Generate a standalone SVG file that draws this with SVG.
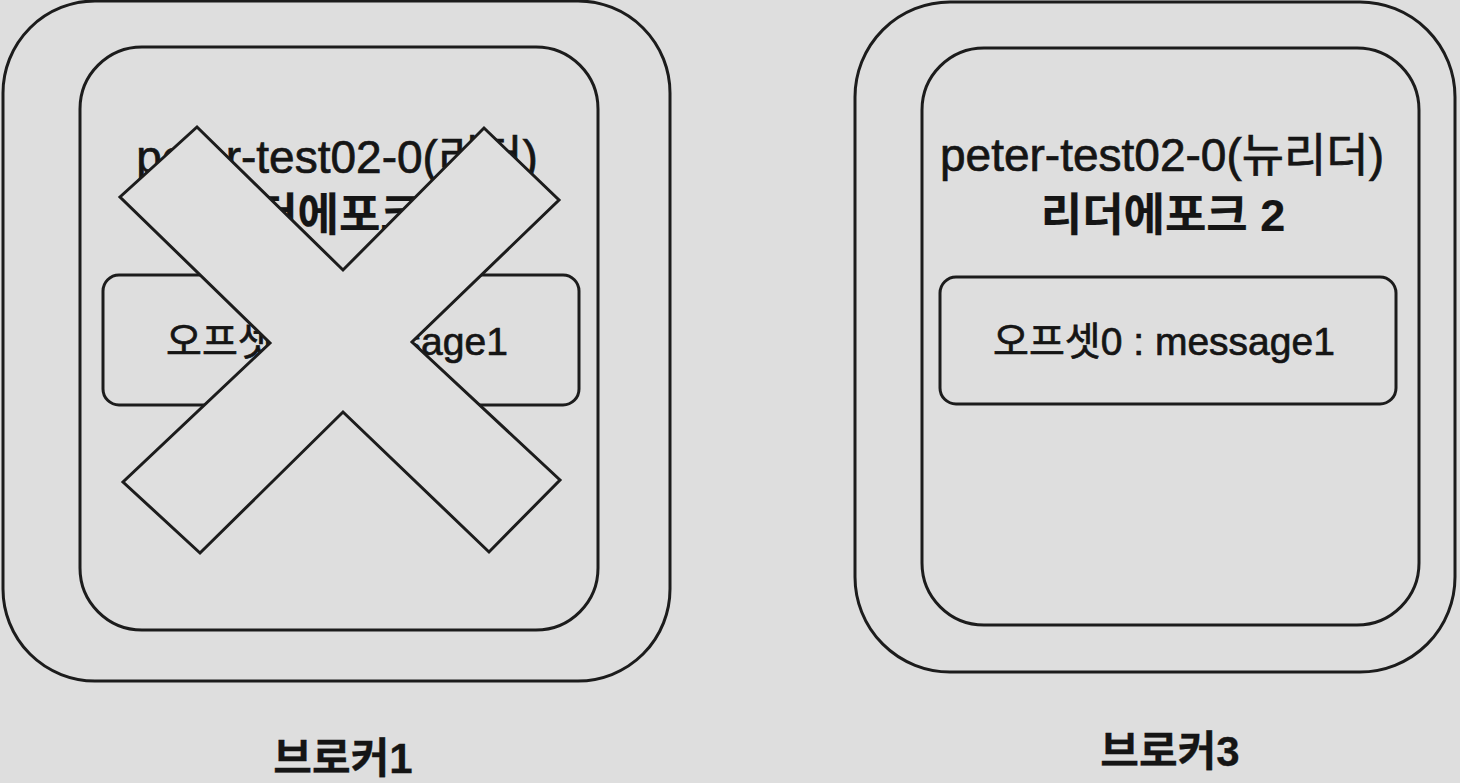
<svg xmlns="http://www.w3.org/2000/svg" width="1460" height="783" viewBox="0 0 1460 783">
<style>
.box{fill:none;stroke:#1c1c1c;stroke-width:3}
.t{font-family:"Liberation Sans","Noto Sans CJK KR",sans-serif;fill:#151515;stroke:#151515;stroke-width:0.7;text-anchor:middle}
.title{font-size:46px}
.epoch{font-size:45px;font-weight:bold;stroke-width:0.2}
.off{font-size:39px}
.lbl{font-size:42px;font-weight:bold;stroke-width:0.3}
.cross{fill:#dfdfdf;stroke:#1c1c1c;stroke-width:3;stroke-linejoin:miter}
</style>
<rect x="0" y="0" width="1460" height="783" fill="#dedede"/>
<g id="broker1">
<rect class="box" x="3" y="1" width="667" height="680" rx="92" ry="92"/>
<rect class="box" x="80" y="47" width="518" height="583" rx="62" ry="62"/>
<text class="t title" x="337" y="173">peter-test02-0(리더)</text>
<text class="t epoch" x="337" y="231">리더에포크 1</text>
<rect class="box" x="103" y="275" width="476" height="130" rx="16" ry="16"/>
<text class="t off" x="337" y="355">오프셋0 : message1</text>
<polygon class="cross" points="197,127 343,270 484,128 559,200 412,342 560,480 489,552 343,412 200,553 123,482 270,343 120,197"/>
<text class="t lbl" x="343" y="773">브로커1</text>
</g>
<g id="broker3">
<rect class="box" x="855" y="2" width="600" height="670" rx="95" ry="95"/>
<rect class="box" x="922" y="48" width="497" height="577" rx="62" ry="62"/>
<text class="t title" x="1162" y="171">peter-test02-0(뉴리더)</text>
<text class="t epoch" x="1163" y="231">리더에포크 2</text>
<rect class="box" x="940" y="277" width="456" height="127" rx="16" ry="16"/>
<text class="t off" x="1164" y="355">오프셋0 : message1</text>
<text class="t lbl" x="1170" y="766">브로커3</text>
</g>
<g id="connectors"/>
</svg>
